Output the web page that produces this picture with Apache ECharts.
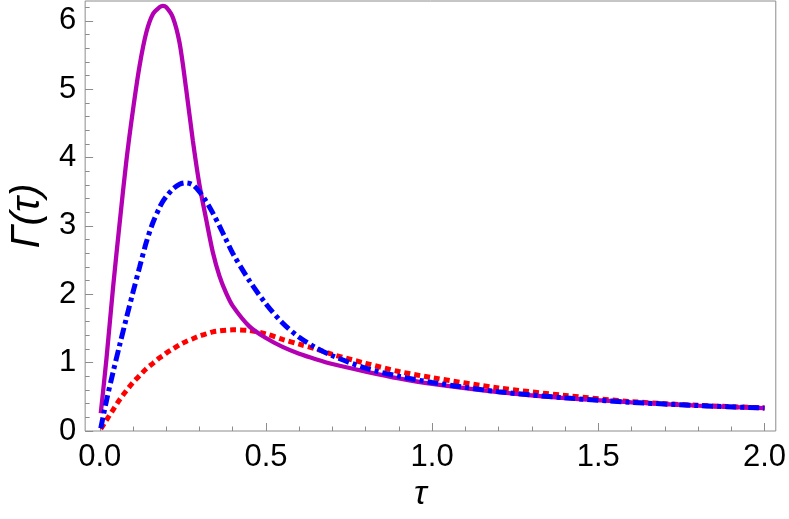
<!DOCTYPE html>
<html>
<head>
<meta charset="utf-8">
<script src="https://cdn.jsdelivr.net/npm/echarts@6/dist/echarts.min.js"></script>
<style>
html,body{margin:0;padding:0;background:#fff;}
#main{width:789px;height:519px;}
</style>
</head>
<body>
<div id="main"></div>
<script>
// tau grid shared by all three curves
var tau = [0.003,0.02,0.04,0.06,0.08,0.1,0.12,0.14,0.16,0.18,0.19,0.2,0.22,0.24,0.26,0.28,0.3,0.32,0.34,0.36,0.38,0.4,0.45,0.5,0.55,0.6,0.65,0.7,0.8,0.9,1.0,1.2,1.4,1.6,1.8,2.0];
// purple solid
var gammaSolid = [0.26,1.05,2.1,3.05,3.95,4.7,5.35,5.83,6.1,6.2,6.22,6.2,6.05,5.68,5.0,4.25,3.6,3.1,2.62,2.27,2.02,1.83,1.53,1.36,1.23,1.13,1.05,0.98,0.87,0.77,0.69,0.57,0.48,0.42,0.37,0.335];
// blue dot-dashed
var gammaDotDash = [0.04,0.44,0.86,1.26,1.65,2.03,2.4,2.76,3.05,3.27,3.36,3.43,3.54,3.61,3.63,3.6,3.5,3.36,3.19,3.0,2.8,2.6,2.2,1.86,1.58,1.37,1.22,1.1,0.92,0.8,0.71,0.575,0.485,0.42,0.372,0.337];
// red dotted
var gammaDotted = [0.03,0.16,0.31,0.46,0.59,0.71,0.81,0.91,0.99,1.07,1.1,1.14,1.2,1.26,1.31,1.35,1.39,1.42,1.45,1.465,1.475,1.48,1.47,1.42,1.34,1.27,1.2,1.12,0.99,0.87,0.78,0.63,0.52,0.43,0.375,0.338];

var xTicks = [0,0.5,1.0,1.5,2.0];
var yTicks = [0,1,2,3,4,5,6];

function pairs(xs,ys){
	var out=[];
	for(var i=0;i<xs.length;i++)out.push([xs[i],ys[i]]);
	return out;
}
function minorList(from,to,step,majors){
	var out=[];
	for(var v=from;v<=to+1e-9;v+=step){
		var r=Math.round(v*100)/100;
		if(majors.indexOf(r)<0)out.push(r);
	}
	return out;
}

var XMIN=-0.044, XMAX=2.034, YMIN=0, YMAX=6.29;
var frameColor='#8c8c8c';
var labelFont={color:'#000',fontSize:31,fontFamily:'Liberation Sans'};

var myChart = echarts.init(document.getElementById('main'));
var option = {
	animation:false,
	grid:{left:83,right:11,top:1,bottom:88,show:true,borderColor:frameColor,borderWidth:1,backgroundColor:'transparent'},
	xAxis:[
		{
			type:'value',min:XMIN,max:XMAX,
			axisLine:{show:false,onZero:false},splitLine:{show:false},
			axisTick:{show:true,inside:true,length:8,customValues:xTicks,lineStyle:{color:frameColor}},
			axisLabel:Object.assign({customValues:xTicks,margin:11,formatter:function(v){return v.toFixed(1);}},labelFont),
			name:'τ',nameLocation:'middle',nameGap:42,
			nameTextStyle:{fontSize:34,fontStyle:'italic',fontFamily:'Liberation Sans',color:'#000',padding:[0,20,0,0]}
		},
		{
			type:'value',min:XMIN,max:XMAX,position:'bottom',
			axisLine:{show:false,onZero:false},splitLine:{show:false},axisLabel:{show:false},
			axisTick:{show:true,inside:true,length:4.5,customValues:minorList(0,2,0.1,xTicks),lineStyle:{color:frameColor}}
		}
	],
	yAxis:[
		{
			type:'value',min:YMIN,max:YMAX,
			axisLine:{show:false,onZero:false},splitLine:{show:false},
			axisTick:{show:true,inside:true,length:8,customValues:yTicks,lineStyle:{color:frameColor}},
			axisLabel:Object.assign({customValues:yTicks,margin:9},labelFont),
			name:'Γ(τ)',nameLocation:'middle',nameGap:36,nameRotate:90,
			nameTextStyle:{fontSize:40,fontStyle:'italic',fontFamily:'Liberation Sans',color:'#000'}
		},
		{
			type:'value',min:YMIN,max:YMAX,position:'left',
			axisLine:{show:false,onZero:false},splitLine:{show:false},axisLabel:{show:false},
			axisTick:{show:true,inside:true,length:4.5,customValues:minorList(0,6.2,0.2,yTicks),lineStyle:{color:frameColor}}
		}
	],
	series:[
		{
			type:'line',name:'dotted',data:pairs(tau,gammaDotted),
			showSymbol:false,symbol:'none',smooth:0.3,
			lineStyle:{color:'#ff0000',width:5,type:[6,4]}
		},
		{
			type:'line',name:'solid',data:pairs(tau,gammaSolid),
			showSymbol:false,symbol:'none',smooth:0.3,
			lineStyle:{color:'#b300b3',width:4.3,type:'solid'}
		},
		{
			type:'line',name:'dotdash',data:pairs(tau,gammaDotDash),
			showSymbol:false,symbol:'none',smooth:0.3,
			lineStyle:{color:'#0000ff',width:5,type:[11,4,4,4]}
		}
	]
};
myChart.setOption(option);
</script>
</body>
</html>
